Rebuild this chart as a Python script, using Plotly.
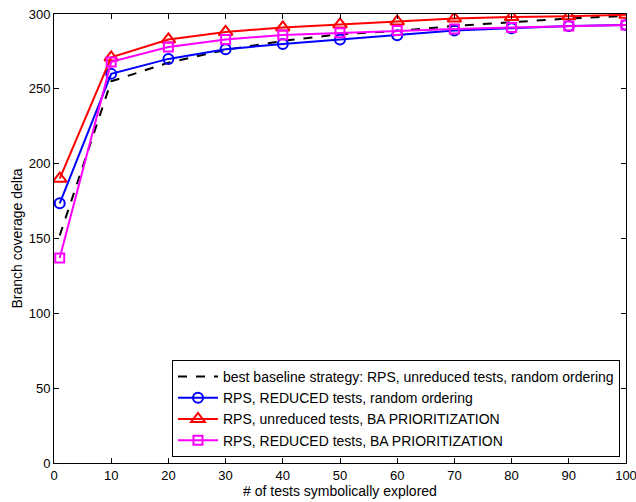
import plotly.graph_objects as go

x = [1, 10, 20, 30, 40, 50, 60, 70, 80, 90, 100]
baseline = [152, 255, 267.5, 276, 282, 286.5, 288.7, 292, 294.5, 297, 298.7]
reduced_random = [173.5, 260, 270, 276.5, 280, 283, 285.8, 289, 290.5, 292, 292.7]
unreduced_ba = [190, 271, 283, 288, 291, 293, 295, 297, 298, 298.5, 299.5]
reduced_ba = [137, 268, 278, 283, 286, 287.5, 289, 290, 291, 292, 292.7]

names = [
    "best baseline strategy: RPS, unreduced tests, random ordering",
    "RPS, REDUCED tests, random ordering",
    "RPS, unreduced tests, BA PRIORITIZATION",
    "RPS, REDUCED tests, BA PRIORITIZATION",
]

FONT = "Liberation Sans, Arial, Helvetica, sans-serif"

fig = go.Figure()
fig.add_trace(go.Scatter(x=x, y=baseline, mode="lines", name=names[0],
                         line=dict(color="black", width=2, dash="dash")))
fig.add_trace(go.Scatter(x=x, y=reduced_random, mode="lines+markers", name=names[1],
                         line=dict(color="#0000ff", width=2),
                         marker=dict(symbol="circle-open", size=10, color="#0000ff", line=dict(width=2))))
fig.add_trace(go.Scatter(x=x, y=unreduced_ba, mode="lines+markers", name=names[2],
                         line=dict(color="#ff0000", width=2),
                         marker=dict(symbol="triangle-up-open", size=12, color="#ff0000", line=dict(width=2))))
fig.add_trace(go.Scatter(x=x, y=reduced_ba, mode="lines+markers", name=names[3],
                         line=dict(color="#ff00ff", width=2),
                         marker=dict(symbol="square-open", size=9, color="#ff00ff", line=dict(width=2))))

axis_common = dict(showgrid=False, zeroline=False, showline=True, linecolor="black", linewidth=1,
                   mirror="ticks", ticks="inside", ticklen=5, tickcolor="black", automargin=False,
                   ticklabeloverflow="allow",
                   tickfont=dict(family=FONT, size=13, color="black"))

fig.update_layout(
    width=636, height=502,
    margin=dict(l=54, r=10, t=14, b=39),
    paper_bgcolor="white", plot_bgcolor="white",
    font=dict(family=FONT, size=14, color="black"),
    xaxis=dict(range=[0, 100], dtick=10, tick0=0,
               title=dict(text="# of tests symbolically explored", standoff=3,
                          font=dict(size=14)), **axis_common),
    yaxis=dict(range=[0, 300], dtick=50, tick0=0,
               title=dict(text="Branch coverage delta", standoff=2,
                          font=dict(size=14)), **axis_common),
    legend=dict(x=0.9895, y=0.0134, xanchor="right", yanchor="bottom",
                bordercolor="black", borderwidth=1, bgcolor="white",
                font=dict(size=14), tracegroupgap=0, itemwidth=40),
    showlegend=True,
)

fig.write_html("out.html")
